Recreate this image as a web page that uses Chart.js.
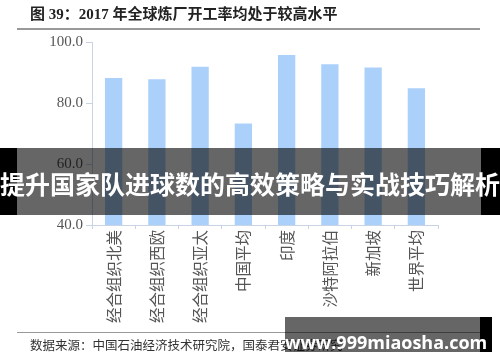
<!DOCTYPE html>
<html>
<head>
<meta charset="utf-8">
<script src="https://cdn.jsdelivr.net/npm/chart.js@4.4.0/dist/chart.umd.min.js"></script>
<style>
  body { margin: 0; background: #fff; }
  #wrap { position: relative; width: 500px; height: 362px; overflow: hidden; }
  #chart { position: absolute; left: 0; top: 0; }
  .title { position: absolute; left: 30px; top: 2px; font: bold 15px "Liberation Serif", "Noto Sans CJK SC", serif; color: #222; white-space: nowrap; }
  .rule { position: absolute; left: 17px; width: 463px; background: #999; }
  .source { position: absolute; left: 30px; top: 335px; font: 12.5px "Liberation Serif", "Noto Sans CJK SC", serif; color: #333; white-space: nowrap; }
  .blk { position: absolute; background: #000; }
  .dim { position: absolute; background: rgba(0,0,0,0.6); }
  .banner { position: absolute; left: 0; width: 500px; top: 166px; text-align: center; font: bold 25px "Noto Sans CJK SC", sans-serif; color: #fff; white-space: nowrap; line-height: 34px; }
  .markTxt { position: absolute; left: 285px; top: 331px; width: 195px; text-align: center; font: bold 18px "Open Sans", "DejaVu Sans", sans-serif; color: #fff; line-height: 22px; }
</style>
</head>
<body>
<div id="wrap">
  <canvas id="chart" width="500" height="362"></canvas>
  <div class="title">图 39：2017 年全球炼厂开工率均处于较高水平</div>
  <div class="rule" style="top:28px;height:2px"></div>
  <div class="rule" style="top:332px;height:1px"></div>
  <div class="source">数据来源：中国石油经济技术研究院，国泰君安证券研究</div>
  <div class="blk" style="left:0;top:148px;width:17px;height:67px"></div>
  <div class="blk" style="left:481px;top:148px;width:19px;height:67px"></div>
  <div class="dim" style="left:17px;top:148px;width:464px;height:67px"></div>
  <div class="banner" id="banner"></div>
  <div class="dim" style="left:285px;top:317px;width:195px;height:35px"></div>
  <div class="blk" style="left:480px;top:317px;width:12px;height:35px"></div>
  <div class="markTxt">www.999miaosha.com</div>
</div>
<script>
const categories = ["经合组织北美", "经合组织西欧", "经合组织亚太", "中国平均", "印度", "沙特阿拉伯", "新加坡", "世界平均"];
const utilization = [88.2, 87.8, 91.9, 73.3, 95.7, 92.7, 91.6, 84.8];
const yTicks = [40, 60, 80, 100];

document.getElementById("banner").textContent = "提升国家队进球数的高效策略与实战技巧解析";

const axisColour = "#c9d3e6";

new Chart(document.getElementById("chart"), {
  type: "bar",
  data: {
    labels: categories,
    datasets: [{
      data: utilization,
      backgroundColor: "#abd1fb",
      categoryPercentage: 1,
      barPercentage: 0.4
    }]
  },
  options: {
    responsive: false,
    animation: false,
    layout: { padding: { left: 0, right: 62, top: 42, bottom: 0 } },
    plugins: { legend: { display: false }, tooltip: { enabled: false } },
    scales: {
      x: {
        grid: { drawOnChartArea: false, color: axisColour, tickLength: 4, offset: true },
        border: { color: axisColour },
        ticks: {
          minRotation: 90,
          maxRotation: 90,
          autoSkip: false,
          padding: 1,
          color: "#555",
          font: { family: "'Noto Sans CJK SC', sans-serif", size: 15.5 }
        },
        afterFit: (s) => { s.height = 137; }
      },
      y: {
        min: 40,
        max: 100,
        afterBuildTicks: (s) => { s.ticks = yTicks.map(v => ({ value: v })); },
        grid: { drawOnChartArea: false, color: axisColour, tickLength: 6 },
        border: { color: axisColour },
        ticks: {
          padding: 3,
          color: "#555",
          font: { family: "'Liberation Serif', serif", size: 15 },
          callback: (v) => v.toFixed(1)
        },
        afterFit: (s) => { s.width = 92; }
      }
    }
  }
});
</script>
</body>
</html>
